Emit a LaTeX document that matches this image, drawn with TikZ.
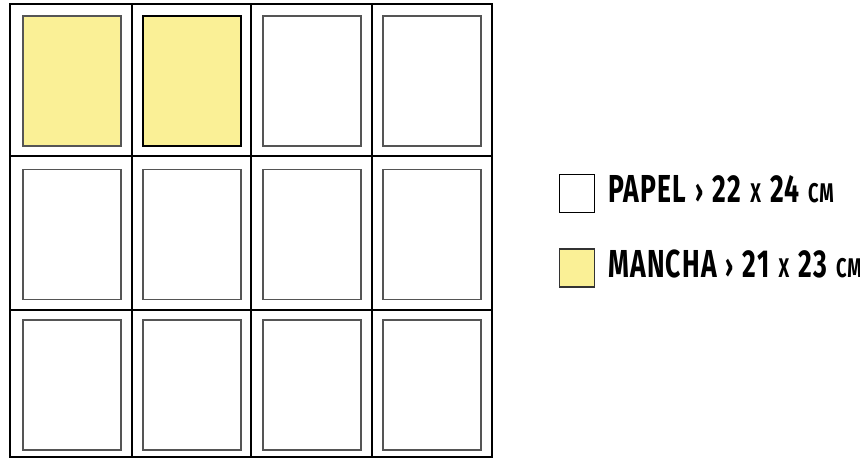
\documentclass[tikz,border=0pt]{standalone}
\usepackage{fontspec}
\newfontfamily\legendfont[FakeStretch=0.68,LetterSpace=3,WordSpace=1.22]{Fira Sans Bold}
\definecolor{mancha}{HTML}{FAF096}
\definecolor{pageedge}{HTML}{555555}
\tikzset{
  page/.style={draw=pageedge, line width=1.2pt, fill=white, minimum width=98pt, minimum height=130pt, inner sep=0pt, outer sep=0pt},
  yellowpage/.style={page, fill=mancha},
  legendbox/.style={draw=black, line width=1.5pt, minimum width=35pt, minimum height=38pt, inner sep=0pt},
  legendtext/.style={anchor=base west, inner sep=0pt, font=\legendfont\fontsize{39}{39}\selectfont},
}
\newcommand{\smallcap}[1]{{\fontsize{27}{27}\selectfont #1}}
\newcommand{\arrowmark}{{\fontsize{33}{33}\selectfont ›}}
\begin{document}
\begin{tikzpicture}[x=1pt,y=-1pt]
\useasboundingbox (0,0) rectangle (860,459);
% grid
\draw[line width=1.5pt] (132,4) -- (132,457) (251,4) -- (251,457) (372,4) -- (372,457)
  (10,156) -- (492,156) (10,310) -- (492,310);
\draw[line width=2pt] (10,4) rectangle (492,457);
% pages
\node[yellowpage] (p11) at (72,81) {};
\node[yellowpage, draw=black, line width=1.5pt] (p12) at (192,81) {};
\node[page] (p13) at (312,81) {};
\node[page] (p14) at (432,81) {};
\node[page] (p21) at (72,234.5) {};
\node[page] (p22) at (192,234.5) {};
\node[page] (p23) at (312,234.5) {};
\node[page] (p24) at (432,234.5) {};
\node[page] (p31) at (72,385) {};
\node[page] (p32) at (192,385) {};
\node[page] (p33) at (312,385) {};
\node[page] (p34) at (432,385) {};
% legend
\node[legendbox, fill=white] (lb1) at (577,193.5) {};
\node[legendbox, fill=mancha, draw=black!80] (lb2) at (577,268) {};
\node[legendtext] (lt1) at (608,202) {PAPEL \arrowmark{} 22 \smallcap{X} 24 \smallcap{CM}};
\node[legendtext] (lt2) at (608,277) {MANCHA \arrowmark{} 21 \smallcap{X} 23 \smallcap{CM}};
\end{tikzpicture}
\end{document}
